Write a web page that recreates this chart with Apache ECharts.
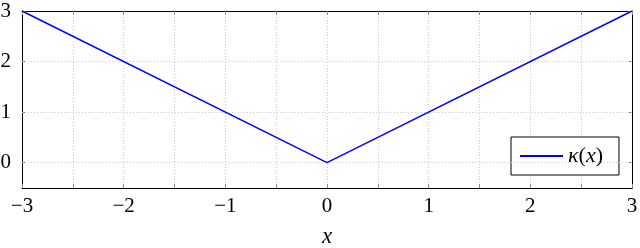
<!DOCTYPE html>
<html><head><meta charset="utf-8">
<script src="https://cdn.jsdelivr.net/npm/echarts@6/dist/echarts.min.js"></script>
<style>html,body{margin:0;padding:0;background:#fff}#c{width:640px;height:248px}</style>
</head><body><div id="c"></div>
<script>
const xs = [-3, 0, 3];
const ys = [3, 0, 3];
const yTicks = [0, 1, 2, 3];
const yGrid = [0, 1, 2];
const seriesName = 'κ(x)';

const font = 'Liberation Serif';
const fmt = v => (Number.isInteger(v) ? String(v).replace('-', '\u2212') : '');
const tickStyle = {show: true, inside: true, length: 4, lineStyle: {color: '#888', width: 1}};
const split = {show: true, lineStyle: {color: '#ccc', type: [1, 2], width: 1}};

const chart = echarts.init(document.getElementById('c'), null, {renderer: 'canvas'});
chart.setOption({
  animation: false,
  textStyle: {fontFamily: font},
  grid: {left: 22, right: 8, top: 11, bottom: 60, containLabel: false, outerBoundsMode: 'none'},
  xAxis: [{
    type: 'value', min: -3, max: 3, interval: 0.5,
    name: 'x', nameLocation: 'middle', nameGap: 37,
    nameTextStyle: {fontFamily: font, fontStyle: 'italic', fontSize: 23, color: '#000'},
    axisLine: {show: true, onZero: false, lineStyle: {color: '#000', width: 1}},
    axisTick: tickStyle,
    axisLabel: {formatter: fmt, fontFamily: font, fontSize: 21, color: '#000', margin: 8, showMinLabel: true, showMaxLabel: true},
    splitLine: split
  }, {
    type: 'value', position: 'top', min: -3, max: 3, interval: 0.5,
    axisLine: {show: true, onZero: false, lineStyle: {color: '#000', width: 1}},
    axisTick: tickStyle, axisLabel: {show: false}, splitLine: {show: false}
  }],
  yAxis: [{
    type: 'value', min: -0.5, max: 3,
    axisLine: {show: true, onZero: false, lineStyle: {color: '#000', width: 1}},
    axisTick: Object.assign({customValues: yTicks}, tickStyle),
    axisLabel: {customValues: yTicks, formatter: fmt, fontFamily: font, fontSize: 21, color: '#000', margin: 11},
    splitLine: {show: false}
  }, {
    type: 'value', position: 'right', min: -0.5, max: 3,
    axisLine: {show: true, onZero: false, lineStyle: {color: '#000', width: 1}},
    axisTick: Object.assign({customValues: yTicks}, tickStyle),
    axisLabel: {show: false}, splitLine: {show: false}
  }],
  legend: {
    left: 511, top: 137, orient: 'vertical',
    backgroundColor: '#fff', borderColor: '#000', borderWidth: 1,
    padding: [8, 16, 8, 9], itemWidth: 43, itemHeight: 2, itemGap: 0,
    textStyle: {fontFamily: font, fontSize: 22, color: '#000',
      rich: {i: {fontFamily: font, fontStyle: 'italic', fontSize: 22, color: '#000', height: 22},
             n: {fontFamily: font, fontSize: 22, color: '#000', height: 22}}},
    formatter: () => '{i|κ}{n|(}{i|x}{n|)}',
    data: [{name: seriesName, icon: 'rect'}]
  },
  series: [{
    name: seriesName, type: 'line', symbol: 'none',
    data: xs.map((x, i) => [x, ys[i]]),
    lineStyle: {color: '#0000ff', width: 1.4}, itemStyle: {color: '#0000ff'},
    z: 5,
    markLine: {
      silent: true, symbol: 'none', label: {show: false},
      lineStyle: {color: '#ccc', type: [1, 2], width: 1},
      data: yGrid.map(v => ({yAxis: v}))
    }
  }]
});
</script></body></html>
